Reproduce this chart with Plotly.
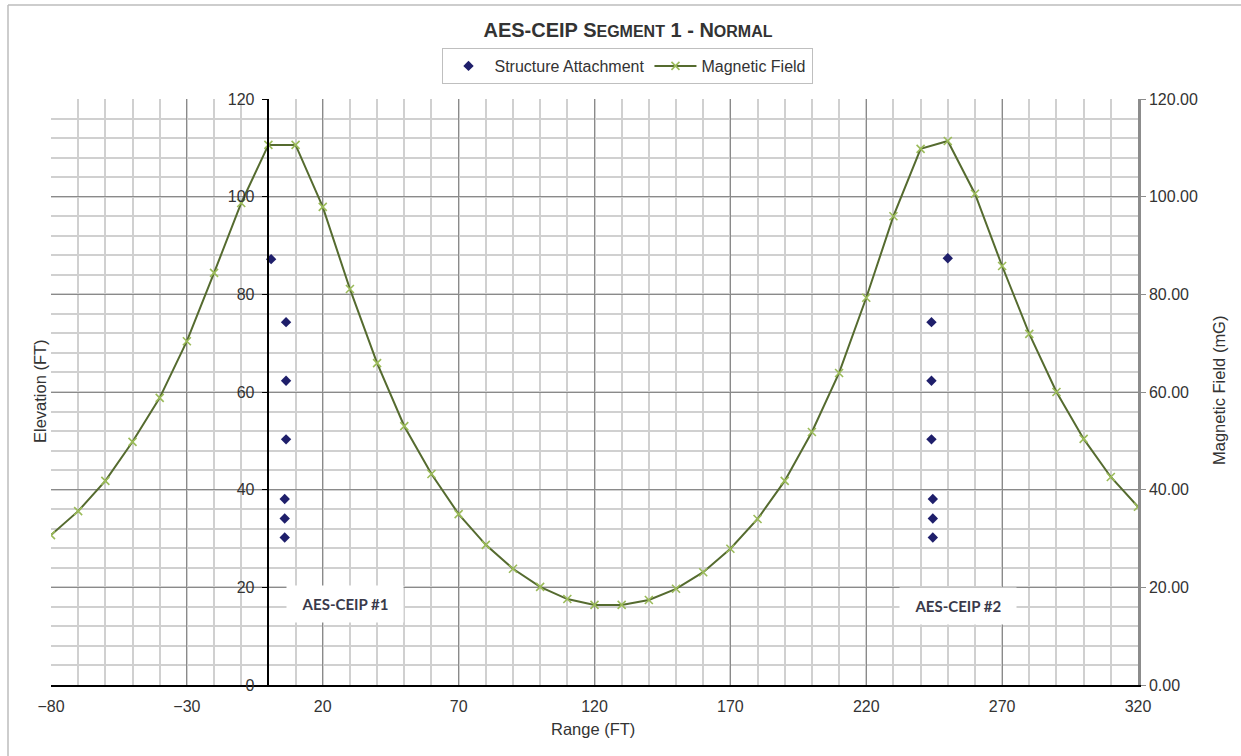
import plotly.graph_objects as go

# ---- data ----
field_x = list(range(-80, 321, 10))
field_mg = [30.7, 35.6, 41.8, 49.8, 58.8, 70.4, 84.4, 98.7, 110.6, 110.6,
            97.9, 81.1, 65.9, 53.0, 43.2, 35.0, 28.7, 23.8, 20.1, 17.6,
            16.4, 16.4, 17.4, 19.7, 23.1, 27.9, 34.0, 41.8, 51.8, 63.9,
            79.3, 96.0, 109.8, 111.4, 100.6, 85.8, 71.9, 60.0, 50.4, 42.6,
            36.5]

struct_x = [1, 6.5, 6.5, 6.5, 6, 6, 6, 250, 244, 244, 244, 244.5, 244.5, 244.5]
struct_y = [87.2, 74.3, 62.3, 50.3, 38.1, 34.1, 30.2, 87.4, 74.3, 62.3, 50.3, 38.1, 34.1, 30.2]

label_names = ["AES-CEIP #1", "AES-CEIP #2"]
label_x = [28.2, 253.8]
label_y = [16.5, 16.2]

x_ticks = [-80, -30, 20, 70, 120, 170, 220, 270, 320]
y_ticks = [0, 20, 40, 60, 80, 100, 120]

# ---- styling ----
W, H = 1241, 756
L, R, T, B = 51, 1138, 99, 685
ML, MR, MT, MB = L, W - R, T, H - B
TXT = "#333333"
MAJ = "#8a8a8a"
MIN = "#d0d0d0"
FONT = "Liberation Sans, Arial, sans-serif"


def px_x(p):
    return (p - L) / (R - L)


def px_y(p):
    return (B - p) / (B - T)


fig = go.Figure()

fig.add_trace(go.Scatter(
    x=struct_x, y=struct_y, mode="markers", name="Structure Attachment",
    marker=dict(symbol="diamond", size=8, color="#1f1f6b"),
    yaxis="y", xaxis="x",
))

fig.add_trace(go.Scatter(
    x=field_x, y=field_mg, mode="lines+markers", name="Magnetic Field",
    line=dict(color="#556b2f", width=2),
    marker=dict(symbol="x-thin", size=8, color="#9bbb59",
                line=dict(color="#9bbb59", width=1.6)),
    yaxis="y2", xaxis="x",
))

for name, ax, ay in zip(label_names, label_x, label_y):
    fig.add_annotation(
        x=ax, y=ay, xref="x", yref="y", text="<b>" + name + "</b>",
        showarrow=False, bgcolor="white", width=116, height=36, borderpad=0,
        font=dict(family="Lato, Open Sans, sans-serif", size=15, color="#3a3a4a"),
    )

# axis titles
fig.add_annotation(x=px_x(40), y=px_y(391), xref="paper", yref="paper",
                   xanchor="center", yanchor="middle",
                   text="Elevation (FT)", textangle=-90, showarrow=False,
                   font=dict(family=FONT, size=16.5, color=TXT))
fig.add_annotation(x=px_x(1219), y=px_y(391), xref="paper", yref="paper",
                   xanchor="center", yanchor="middle",
                   text="Magnetic Field (mG)", textangle=-90, showarrow=False,
                   font=dict(family=FONT, size=16.5, color=TXT))
fig.add_annotation(x=px_x(593), y=px_y(729), xref="paper", yref="paper",
                   xanchor="center", yanchor="middle",
                   text="Range (FT)", showarrow=False,
                   font=dict(family=FONT, size=16.5, color=TXT))

# outer chart border
bx0, by0, bx1, by1 = px_x(8), px_y(H + 5), px_x(W + 5), px_y(5)
fig.add_shape(type="line", xref="paper", yref="paper", x0=bx0, x1=bx0, y0=by0, y1=by1,
              line=dict(color="#bdbdbd", width=1.5))
fig.add_shape(type="line", xref="paper", yref="paper", x0=bx0, x1=bx1, y0=by1, y1=by1,
              line=dict(color="#bdbdbd", width=1.5))

small = "<span style='font-size:16px'>"
fig.update_layout(
    width=W, height=H,
    margin=dict(l=ML, r=MR, t=MT, b=MB, pad=0),
    paper_bgcolor="white", plot_bgcolor="white",
    font=dict(family=FONT, size=16, color=TXT),
    title=dict(
        text="<b>AES-CEIP S" + small + "EGMENT</span> 1 - N" + small + "ORMAL</span></b>",
        x=px_x(628), xref="paper", xanchor="center",
        y=1 - 30 / H, yref="container", yanchor="middle",
        font=dict(family=FONT, size=20, color="#333333"),
    ),
    legend=dict(
        orientation="h", x=px_x(627), y=px_y(66), xanchor="center", yanchor="middle",
        bordercolor="#bfbfbf", borderwidth=1, bgcolor="white",
        font=dict(family=FONT, size=16, color=TXT),
        itemwidth=42,
    ),
    showlegend=True,
    xaxis=dict(
        range=[-80, 320], tickmode="array", tickvals=x_ticks,
        showgrid=True, gridcolor=MAJ, gridwidth=1.2,
        minor=dict(dtick=10, tick0=-80, showgrid=True, gridcolor=MIN, gridwidth=1.6),
        zeroline=False, showline=True, linecolor="black", linewidth=1.5,
        ticks="", ticklabelstandoff=6, tickfont=dict(size=16, color=TXT), fixedrange=True,
    ),
    yaxis=dict(
        range=[0, 120], tickmode="array", tickvals=y_ticks,
        anchor="free", position=0.2,
        showgrid=True, gridcolor=MAJ, gridwidth=1.2,
        minor=dict(dtick=4, tick0=0, showgrid=True, gridcolor=MIN, gridwidth=1.6),
        zeroline=False, showline=True, linecolor="black", linewidth=1.5,
        ticks="outside", ticklen=6, tickcolor="black", ticklabelstandoff=4,
        tickfont=dict(size=16, color=TXT), fixedrange=True,
    ),
    yaxis2=dict(
        range=[0, 120], tickmode="array", tickvals=y_ticks, tickformat=".2f",
        overlaying="y", side="right", anchor="x",
        showgrid=False, zeroline=False, showline=True, linecolor="#8c8c8c", linewidth=2.5,
        ticks="outside", ticklen=5, tickcolor="#8c8c8c",
        tickfont=dict(size=16, color=TXT), fixedrange=True,
    ),
)

fig.write_html("out.html")
